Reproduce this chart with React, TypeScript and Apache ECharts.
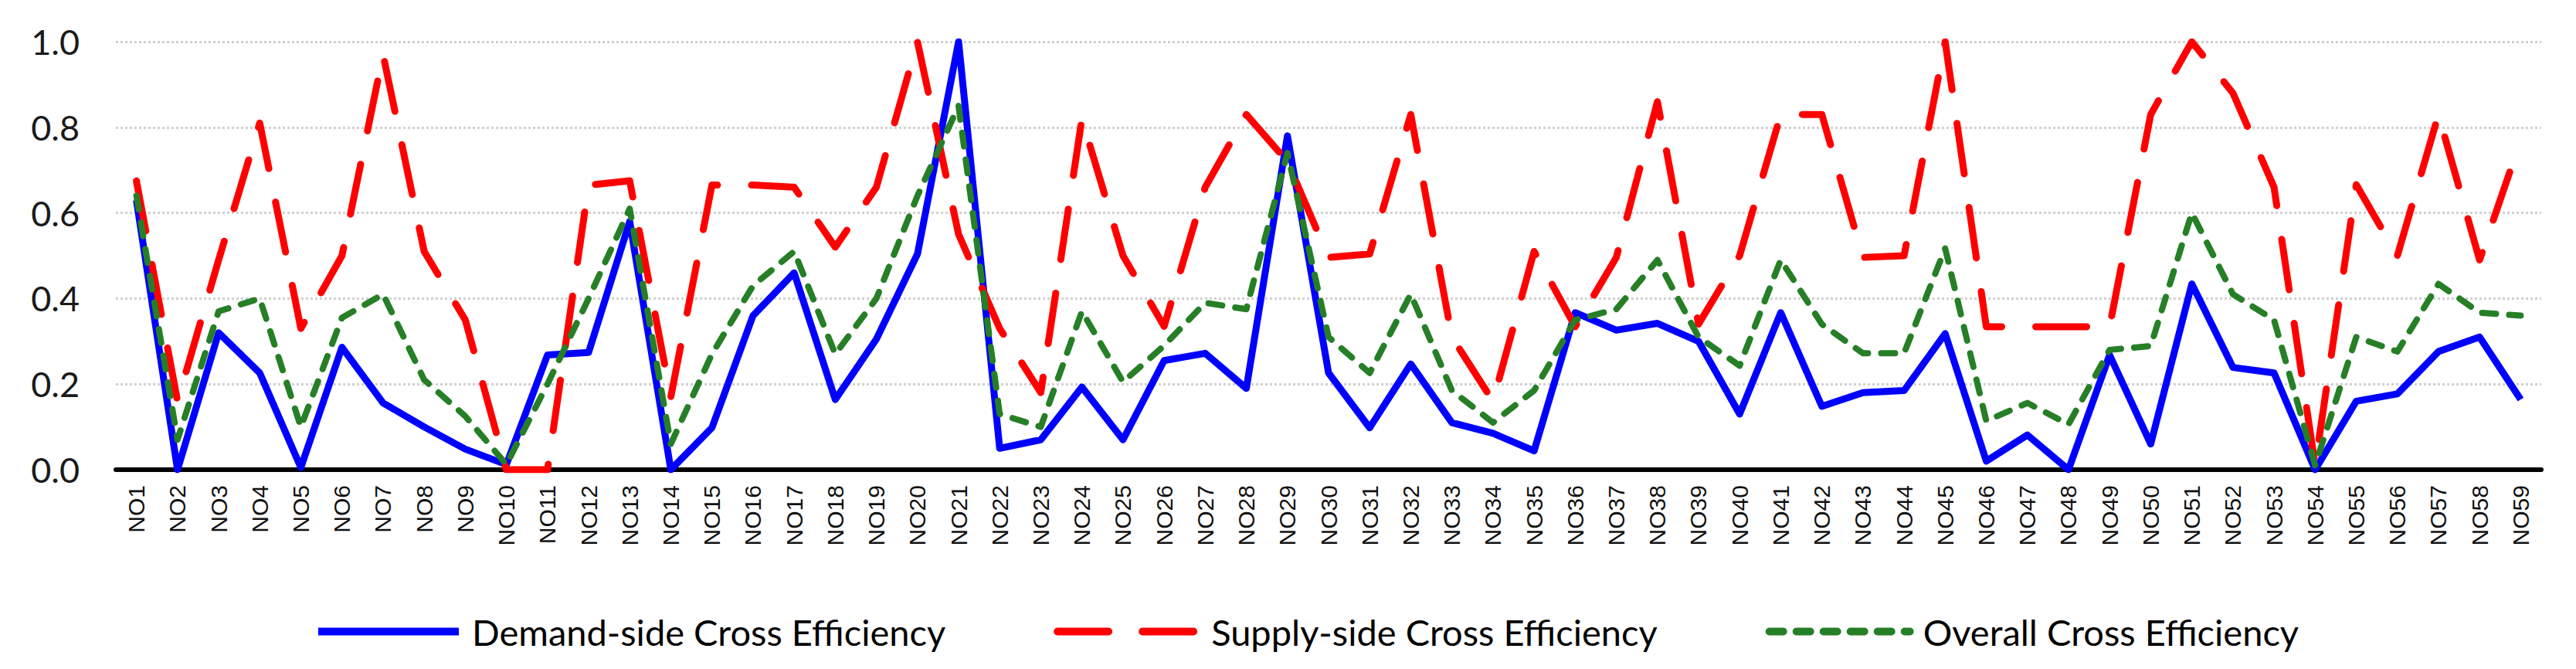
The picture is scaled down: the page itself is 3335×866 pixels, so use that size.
import React, { useEffect, useRef } from "react";
import * as echarts from "echarts";

const categories = [
  "NO1", "NO2", "NO3", "NO4", "NO5", "NO6", "NO7", "NO8", "NO9", "NO10",
  "NO11", "NO12", "NO13", "NO14", "NO15", "NO16", "NO17", "NO18", "NO19", "NO20",
  "NO21", "NO22", "NO23", "NO24", "NO25", "NO26", "NO27", "NO28", "NO29", "NO30",
  "NO31", "NO32", "NO33", "NO34", "NO35", "NO36", "NO37", "NO38", "NO39", "NO40",
  "NO41", "NO42", "NO43", "NO44", "NO45", "NO46", "NO47", "NO48", "NO49", "NO50",
  "NO51", "NO52", "NO53", "NO54", "NO55", "NO56", "NO57", "NO58", "NO59",
];

const demandSide = [
  0.63, 0, 0.32, 0.226, 0.005, 0.286, 0.156, 0.1, 0.048, 0.012,
  0.268, 0.274, 0.58, 0, 0.098, 0.36, 0.46, 0.164, 0.305, 0.504,
  1.0, 0.05, 0.07, 0.193, 0.07, 0.255, 0.272, 0.19, 0.78, 0.226,
  0.098, 0.247, 0.11, 0.085, 0.044, 0.367, 0.326, 0.342, 0.3, 0.13,
  0.367, 0.148, 0.18, 0.185, 0.318, 0.02, 0.081, 0, 0.268, 0.06,
  0.434, 0.239, 0.226, 0, 0.16, 0.177, 0.276, 0.31, 0.164,
];

const supplySide = [
  0.675, 0.16, 0.49, 0.81, 0.33, 0.5, 0.97, 0.51, 0.35, 0,
  0, 0.665, 0.675, 0.17, 0.665, 0.665, 0.66, 0.52, 0.66, 1.0,
  0.55, 0.33, 0.18, 0.82, 0.5, 0.335, 0.66, 0.83, 0.72, 0.496,
  0.504, 0.83, 0.31, 0.16, 0.51, 0.334, 0.496, 0.86, 0.34, 0.5,
  0.83, 0.83, 0.496, 0.5, 1.0, 0.334, 0.334, 0.334, 0.334, 0.83,
  1.0, 0.88, 0.66, 0.01, 0.666, 0.5, 0.83, 0.49, 0.77,
];

const overall = [
  0.64, 0.07, 0.37, 0.4, 0.1, 0.355, 0.41, 0.21, 0.125, 0.012,
  0.2, 0.4, 0.61, 0.06, 0.27, 0.43, 0.51, 0.27, 0.4, 0.64,
  0.85, 0.13, 0.1, 0.37, 0.205, 0.29, 0.39, 0.375, 0.74, 0.31,
  0.226, 0.41, 0.185, 0.11, 0.185, 0.35, 0.375, 0.49, 0.31, 0.243,
  0.49, 0.34, 0.272, 0.272, 0.517, 0.114, 0.156, 0.106, 0.28, 0.289,
  0.6, 0.41, 0.35, 0.01, 0.31, 0.276, 0.434, 0.367, 0.36,
];

const seriesNames = [
  "Demand-side Cross Efficiency",
  "Supply-side Cross Efficiency",
  "Overall Cross Efficiency",
];

const W = 3335;
const H = 866;

export default function App() {
  const ref = useRef<HTMLDivElement>(null);

  useEffect(() => {
    if (!ref.current) return;
    const chart = echarts.init(ref.current, null, { renderer: "svg", width: W, height: H });
    chart.setOption({
      animation: false,
      backgroundColor: "#ffffff",
      grid: { left: 150, right: 45, top: 54, bottom: 258, containLabel: false },
      legend: {
        left: 402,
        top: 789,
        itemWidth: 182,
        itemHeight: 14,
        itemGap: 140,
        lineStyle: { width: 10 },
        itemStyle: { opacity: 0 },
        textStyle: {
          fontFamily: "Lato",
          fontSize: 47,
          color: "#000000",
          padding: [0, 0, 0, 12],
        },
        data: seriesNames,
      },
      xAxis: {
        type: "category",
        data: categories,
        boundaryGap: true,
        axisLine: { lineStyle: { color: "#000000", width: 6 } },
        axisTick: { show: false },
        axisLabel: {
          rotate: 90,
          interval: 0,
          fontFamily: "Liberation Sans",
          fontSize: 30,
          color: "#111111",
          margin: 20,
        },
      },
      yAxis: {
        type: "value",
        min: 0,
        max: 1,
        interval: 0.2,
        axisLine: { show: false },
        axisTick: { show: false },
        axisLabel: {
          formatter: (v: number) => v.toFixed(1),
          fontFamily: "Lato",
          fontSize: 45,
          color: "#1a1a1a",
          margin: 47,
        },
        splitLine: { lineStyle: { color: "#d0d0d0", width: 3, type: [3, 3] } },
      },
      series: [
        {
          name: seriesNames[0],
          type: "line",
          data: demandSide,
          symbol: "none",
          lineStyle: { color: "#0000ff", width: 9, join: "round" },
          itemStyle: { color: "#0000ff" },
          z: 2,
        },
        {
          name: seriesNames[1],
          type: "line",
          data: supplySide,
          symbol: "none",
          lineStyle: { color: "#ff0000", width: 9, type: [66, 44], cap: "round", join: "round" },
          itemStyle: { color: "#ff0000" },
          z: 3,
        },
        {
          name: seriesNames[2],
          type: "line",
          data: overall,
          symbol: "none",
          lineStyle: { color: "#267f26", width: 8, type: [18, 17], cap: "round", join: "round" },
          itemStyle: { color: "#267f26" },
          z: 4,
        },
      ],
    });
    return () => chart.dispose();
  }, []);

  return (
    <div
      ref={ref}
      style={{ position: "fixed", left: 0, top: 0, width: W, height: H, background: "#fff" }}
    />
  );
}
